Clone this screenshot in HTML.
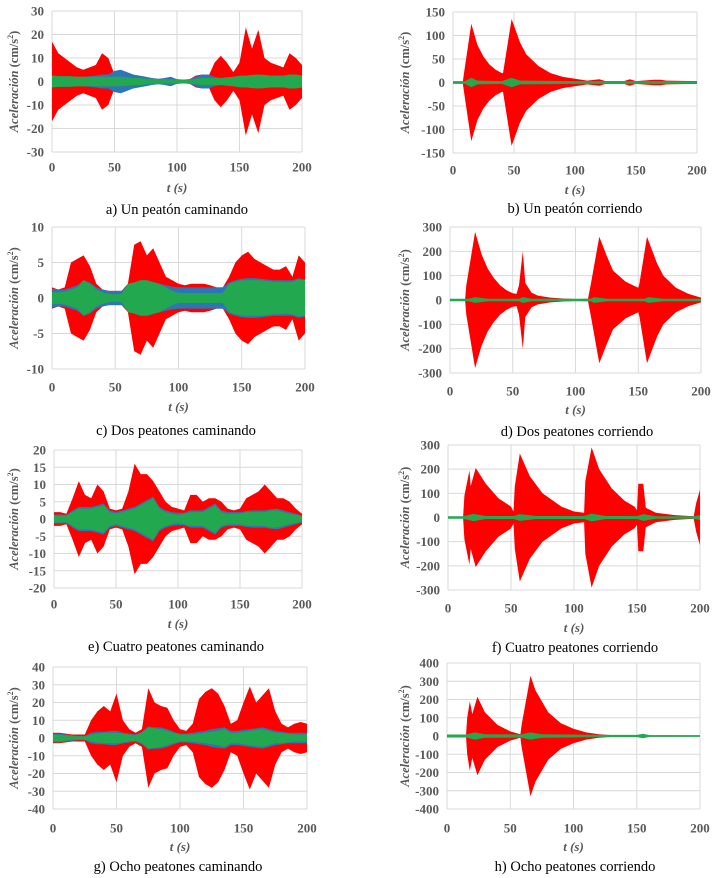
<!DOCTYPE html>
<html><head><meta charset="utf-8"><style>
html,body{margin:0;padding:0;background:#fff;}
svg{display:block;}
.tk{font-family:"Liberation Serif",serif;font-weight:bold;font-size:13px;fill:#595959;}
.yt{font-family:"Liberation Serif",serif;font-weight:bold;font-style:italic;font-size:12.5px;fill:#595959;}
.xt{font-family:"Liberation Serif",serif;font-weight:bold;font-style:italic;font-size:13px;fill:#595959;}
.cap{font-family:"Liberation Serif",serif;font-size:14.5px;fill:#000;}
</style></head><body>
<svg id="fig" width="716" height="878" viewBox="0 0 716 878"></svg>
<script>
// ---- data (amplitude envelopes, cm/s^2) ----
const T5 = [0,5,10,15,20,25,30,35,40,45,50,55,60,65,70,75,80,85,90,95,100,105,110,115,120,125,130,135,140,145,150,155,160,165,170,175,180,185,190,195,200];

const aRed   = [17,12,10,8,6,5,6,7,12,10,3,2,2,1.5,1.2,1,1,1,1,1.5,1,0.8,1,2.5,3,2,8,11,8,4,8,23,14,22,10,8,7,6,12,10,7];
const aBlue  = [2.5,2.3,2.2,2.2,2,2,2.2,2.5,3,3,4.5,5,4,3,2.5,2,1.5,1.2,1.5,2,1,0.8,1,2,3,3,2,1.5,1.5,1.5,2,2.2,2.5,2.5,2.5,2.5,2.5,2.5,2.5,2.5,2.5];
const aGreen = [2.5,2.3,2.2,2.2,2,2,2,2,2,2,2,2,1.8,1.5,1.5,1.2,1.2,1,1,1,0.8,0.7,0.8,1.2,1.5,1.5,1.5,1.5,1.8,2,2.5,2.5,2.8,3,2.8,2.5,2.5,2.5,3,3,2.5];

const bTime  = [0,8,9,15,20,25,30,35,40,41,48,55,60,70,80,90,100,110,120,125,140,145,150,165,170,175,200];
const bRed   = [2,2,20,125,80,55,38,27,20,20,135,85,60,35,20,12,8,4,7,3,3,7,3,6,6,4,3];
const bGTime = [0,10,15,20,40,48,55,100,200];
const bGreen = [3,3,10,4,3,10,4,3,3];

const cRed   = [1.5,1.2,1.5,5,5.5,6,4.5,2,1.2,1,1,1,2,7.5,8,6,7,5,3,2.5,2,1.8,2,2,2,1.8,1.5,1.5,3,5,6,6.5,5.5,5,4.5,4,4,4.5,3,6,5];
const cBlue  = [1.3,1.2,1.2,1.5,1.8,2.5,2.2,1.5,1.2,1,1,1,1.8,2.2,2.5,2.5,2.3,2,1.8,1.6,1.5,1.5,1.5,1.5,1.5,1.5,1.5,1.5,2.2,2.5,2.7,2.8,2.8,2.7,2.6,2.5,2.5,2.5,2.5,2.8,2.6];
const cGreen = [0.8,0.8,0.9,1.2,1.5,2.5,2,1.2,0.8,0.6,0.5,0.6,2,2.2,2.5,2.5,2.2,2,1.5,1,0.7,0.7,0.7,0.7,0.7,0.7,0.7,0.7,2,2.3,2.5,2.5,2.5,2.5,2.4,2.3,2.3,2.2,2.3,2.6,2.5];

const dTime  = [0,12,13,20,25,30,35,40,45,50,53,55,58,60,65,70,80,90,100,110,112,119,125,130,140,150,151,157,165,170,180,190,200];
const dRed   = [3,3,60,280,190,130,90,60,40,28,25,60,200,70,30,18,10,6,4,5,60,260,180,120,75,50,70,260,150,100,50,25,10];
const dGTime = [0,15,20,30,55,58,65,112,115,125,155,158,170,200];
const dGreen = [5,5,12,5,5,12,5,5,12,5,5,12,5,5];

const eRed   = [2,2,1.5,6,11,7,6,10,8,3,2.5,3,8,16,13,13,11,8,5,3.5,3,2.5,7,7,5,6,6,5,3,2.5,3,6,7,8,10,8,6,6,5,3,1.5];
const eBlue  = [1.3,1.3,1.2,2.5,3.5,3.5,3.5,4,4.5,2.5,2,2.5,3,3.5,4.5,5.5,6.5,3.5,2.5,2,1.8,1.8,2.5,2.5,2.5,3.5,4.5,2.5,2,2,2,2.3,2.5,2.5,2.5,2.8,3,2.5,2,1.5,1];
const eGreen = [1,1,1,2,3,3,3,3.5,4,2,1.5,2,2.5,3,4,5,6,3,2,1.5,1.2,1.5,2,2,2,3,4,2,1.5,1.5,1.5,2,2,2,2,2.5,2.5,2,1.5,1.2,0.8];

const gRed   = [3,3,2.5,2,2,2,10,15,18,15,25,10,5,3,5,28,20,18,17,10,5,4,8,22,26,28,25,18,8,10,20,29,20,24,28,15,8,6,8,9,8];
const gBlue  = [2.5,2.5,2,1.5,1.2,1.2,3,3.5,3.5,4,4,3,2.5,2,3.5,6.5,6,6,5,3.5,2.5,2.5,3,3.5,4,5,5.5,6,4,4,4.5,5,5.5,6,5,4,3.5,3,3,3,3];
const gGreen = [2,2,1.5,1.2,1,1,2,2.5,3,3,3,2.5,2,1.5,3,6,5.5,5,4,3,2,2,2,2.5,3,3.5,4,5,3,3,3.5,4,4.5,5,4,3,3,2.5,2,2,2];

const fTime  = [0,12,13,17,18,22,30,40,50,52,53,57,65,75,90,100,108,109,114,120,130,140,148,150,151,155,157,165,180,195,197,200];
const fRed   = [3,3,90,195,130,205,140,80,45,25,130,265,170,100,45,25,20,150,290,200,120,70,45,30,140,140,40,20,10,5,60,115];
const fGTime = [0,12,20,30,52,57,70,108,114,125,150,155,165,195,200];
const fGreen = [5,5,15,6,6,14,6,6,16,6,6,14,5,5,10];

const hTime  = [0,15,16,18,20,24,30,40,50,58,59,66,70,80,90,100,110,120,130,200];
const hRed   = [5,5,100,190,120,215,130,60,25,10,60,330,250,130,70,40,20,10,5,3];
const hGTime = [0,15,22,30,58,66,75,120,150,155,160,200];
const hGreen = [8,8,20,10,8,20,10,6,6,12,5,5];

const panels = [
 {id:'a', x0:52,x1:302,y0:11,y1:152, max:30, step:10, xl:167, ts:188, cy:209, cap:'a) Un peatón caminando', capx:177, ytx:14,
  tR:T5,r:aRed,tB:T5,b:aBlue,tG:T5,g:aGreen},
 {id:'b', x0:453,x1:697,y0:12,y1:153, max:150, step:50, xl:170, ts:190, cy:208, cap:'b) Un peatón corriendo', capx:575, ytx:405,
  tR:bTime,r:bRed,tB:bGTime,b:bGreen.map(v=>v*0.6),tG:bGTime,g:bGreen},
 {id:'c', x0:52,x1:305,y0:227,y1:369, max:10, step:5, xl:387, ts:407, cy:430, cap:'c)  Dos peatones caminando', capx:176, ytx:14,
  tR:T5,r:cRed,tB:T5,b:cBlue,tG:T5,g:cGreen},
 {id:'d', x0:450,x1:701,y0:227,y1:373, max:300, step:100, xl:391, ts:410, cy:431, cap:'d) Dos peatones corriendo', capx:577, ytx:405,
  tR:dTime,r:dRed,tB:dGTime,b:dGreen.map(v=>v*0.6),tG:dGTime,g:dGreen},
 {id:'e', x0:54,x1:302,y0:450,y1:588, max:20, step:5, xl:604, ts:624, cy:646, cap:'e) Cuatro peatones caminando', capx:176, ytx:14,
  tR:T5,r:eRed,tB:T5,b:eBlue,tG:T5,g:eGreen},
 {id:'f', x0:448,x1:700,y0:445,y1:590, max:300, step:100, xl:608, ts:628, cy:647, cap:'f) Cuatro peatones corriendo', capx:575, ytx:405,
  tR:fTime,r:fRed,tB:fGTime,b:fGreen.map(v=>v*0.6),tG:fGTime,g:fGreen},
 {id:'g', x0:53,x1:307,y0:667,y1:809, max:40, step:10, xl:828, ts:847, cy:866, cap:'g) Ocho peatones caminando', capx:178, ytx:14,
  tR:T5,r:gRed,tB:T5,b:gBlue,tG:T5,g:gGreen},
 {id:'h', x0:447,x1:700,y0:663,y1:809, max:400, step:100, xl:828, ts:847, cy:866, cap:'h) Ocho peatones corriendo', capx:575, ytx:405,
  tR:hTime,r:hRed,tB:hGTime,b:hGreen.map(v=>v*0.6),tG:hGTime,g:hGreen}
];

const NS='http://www.w3.org/2000/svg';
const svg=document.getElementById('fig');
function mk(tag,attrs,parent){const e=document.createElementNS(NS,tag);for(const k in attrs)e.setAttribute(k,attrs[k]);(parent||svg).appendChild(e);return e;}

panels.forEach(p=>{
  const g=mk('g',{});
  
  
  const xs=t=>p.x0+(t/200)*(p.x1-p.x0);
  const ys=v=>(p.y0+p.y1)/2-(v/p.max)*(p.y1-p.y0)/2;
  // grid
  for(let v=-p.max; v<=p.max+1e-9; v+=p.step){
    const l=mk('line',{x1:p.x0,x2:p.x1,y1:ys(v),y2:ys(v),stroke:'#d9d9d9','stroke-width':1},g);
    
    
    const t=mk('text',{x:p.x0-8,y:ys(v)+4.5,'text-anchor':'end',class:'tk'},g);
    t.textContent=String(Math.round(v));
    
    
  }
  [0,50,100,150,200].forEach(tv=>{
    const l=mk('line',{x1:xs(tv),x2:xs(tv),y1:p.y0,y2:p.y1,stroke:'#d9d9d9','stroke-width':1},g);
    
    
    const t=mk('text',{x:xs(tv),y:p.xl+4.5,'text-anchor':'middle',class:'tk'},g);
    t.textContent=String(tv);
    
    
  });
  // series envelopes
  const env=(ts,vals,color,name)=>{
    let pts=[];
    for(let i=0;i<ts.length;i++)pts.push(xs(ts[i]).toFixed(1)+','+ys(vals[i]).toFixed(1));
    for(let i=ts.length-1;i>=0;i--)pts.push(xs(ts[i]).toFixed(1)+','+ys(-vals[i]).toFixed(1));
    const pg=mk('polygon',{points:pts.join(' '),fill:color},g);
    
    
  };
  env(p.tR,p.r,'#ff0000','series-red');
  env(p.tB,p.b,'#2e75b6','series-blue');
  env(p.tG,p.g,'#22a84e','series-green');
  // axis titles
  const cy=(p.y0+p.y1)/2;
  const yt=mk('text',{x:0,y:0,transform:`translate(${p.ytx+4},${cy}) rotate(-90)`,'text-anchor':'middle',class:'yt'},g);
  yt.innerHTML='Aceleración <tspan font-style="normal">(cm/s</tspan><tspan font-style="normal" font-size="8" dy="-5">2</tspan><tspan font-style="normal" dy="5">)</tspan>';
  
  
  const xt=mk('text',{x:(p.x0+p.x1)/2,y:p.ts+4,'text-anchor':'middle',class:'xt'},g);
  xt.textContent='t (s)';
  
  
  const cp=mk('text',{x:p.capx,y:p.cy+5,'text-anchor':'middle',class:'cap'},g);
  cp.textContent=p.cap;
  
  
});
</script>
</body></html>
